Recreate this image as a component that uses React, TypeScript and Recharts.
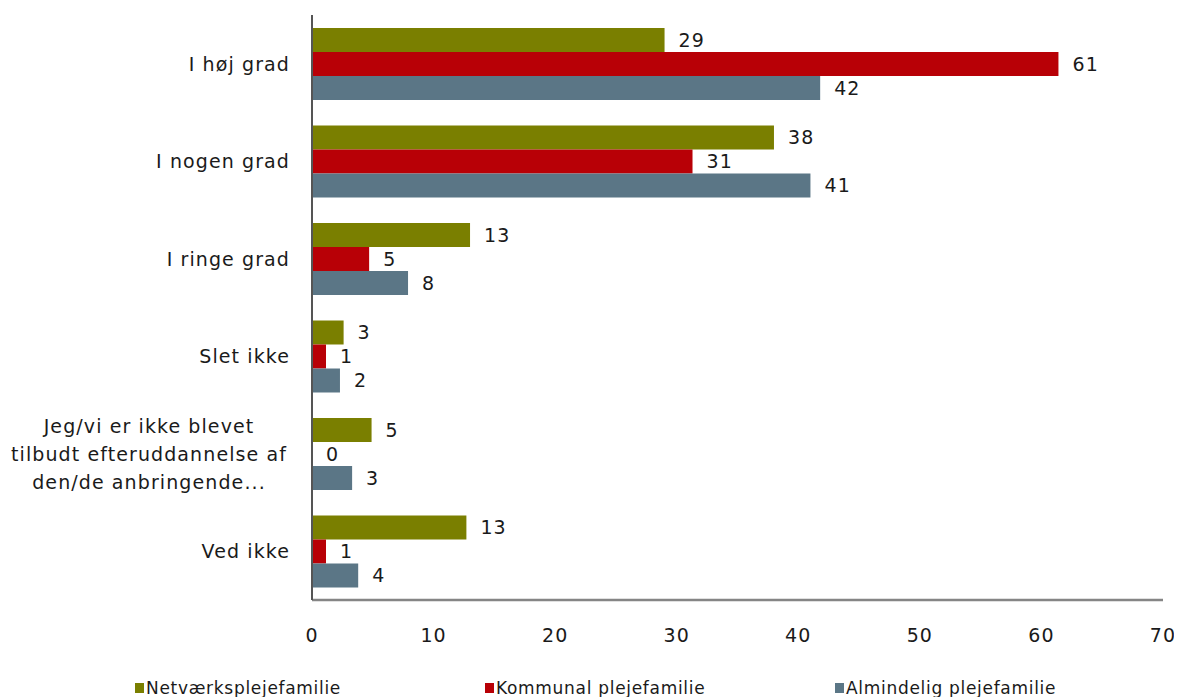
import { BarChart, Bar, XAxis, YAxis, Legend } from 'recharts';

const categories = [
  'I høj grad',
  'I nogen grad',
  'I ringe grad',
  'Slet ikke',
  'Jeg/vi er ikke blevet\ntilbudt efteruddannelse af\nden/de anbringende...',
  'Ved ikke',
];

const netvaerk = [29, 38, 13, 2.6, 4.9, 12.7];
const kommunal = [61.4, 31.3, 4.7, 1.15, 0, 1.15];
const almindelig = [41.8, 41, 7.9, 2.3, 3.3, 3.8];

const xTicks = [0, 10, 20, 30, 40, 50, 60, 70];

const series = [
  { key: 'netvaerk', name: 'Netværksplejefamilie', color: '#7a7f00' },
  { key: 'kommunal', name: 'Kommunal plejefamilie', color: '#b80006' },
  { key: 'almindelig', name: 'Almindelig plejefamilie', color: '#5b7686' },
];

const data = categories.map((label, i) => ({
  label,
  netvaerk: netvaerk[i],
  kommunal: kommunal[i],
  almindelig: almindelig[i],
}));

const FONT = '"DejaVu Sans", Verdana, sans-serif';
const textStyle = { fontFamily: FONT, fontSize: 19, letterSpacing: 1.1, fill: '#1a1a1a' };

function CategoryTick({ x, y, payload }: any) {
  const lines = String(payload.value).split('\n');
  if (lines.length === 1) {
    return (
      <text x={x - 20} y={y} dy="0.36em" textAnchor="end" style={textStyle}>
        {lines[0]}
      </text>
    );
  }
  const lineH = 28;
  const start = y - ((lines.length - 1) * lineH) / 2;
  return (
    <text textAnchor="middle" style={textStyle}>
      {lines.map((l, i) => (
        <tspan key={i} x={x - 161} y={start + i * lineH} dy="0.36em">
          {l}
        </tspan>
      ))}
    </text>
  );
}

function ValueLabel({ x, y, width, height, value }: any) {
  const v = Array.isArray(value) ? value[1] - value[0] : Number(value);
  return (
    <text x={x + width + 14} y={y + height / 2} dy="0.36em" textAnchor="start" style={textStyle}>
      {Math.round(v)}
    </text>
  );
}

function LegendContent() {
  return (
    <div
      style={{
        height: 47,
        position: 'relative',
        fontFamily: FONT,
        fontSize: 17,
        letterSpacing: 0.7,
        color: '#1a1a1a',
      }}
    >
      {series.map((s, i) => (
        <div
          key={s.key}
          style={{
            position: 'absolute',
            left: 127 + i * 350,
            top: 29,
            display: 'flex',
            alignItems: 'center',
            lineHeight: '18px',
            whiteSpace: 'nowrap',
          }}
        >
          <span style={{ width: 9, height: 10, background: s.color, marginRight: 2, display: 'inline-block' }} />
          {s.name}
        </div>
      ))}
    </div>
  );
}

export default function App() {
  return (
    <>
      <style>{'svg.recharts-surface { overflow: visible; }'}</style>
      <BarChart
        width={1166}
        height={689}
        data={data}
        layout="vertical"
        margin={{ top: 7, right: 11, bottom: 0, left: 0 }}
        barCategoryGap={13}
        barGap={0}
      >
        <XAxis
          type="number"
          domain={[0, 70]}
          ticks={xTicks}
          tickLine={false}
          tickSize={0}
          tickMargin={29}
          height={50}
          axisLine={{ stroke: '#858585', strokeWidth: 2.5 }}
          tick={{ ...textStyle }}
        />
        <YAxis
          type="category"
          dataKey="label"
          width={304}
          tickLine={false}
          tickSize={0}
          axisLine={{ stroke: '#555', strokeWidth: 2 }}
          tick={<CategoryTick />}
          interval={0}
        />
        <Legend verticalAlign="bottom" content={<LegendContent />} />
        {series.map((s) => (
          <Bar
            key={s.key}
            dataKey={s.key}
            name={s.name}
            fill={s.color}
            minPointSize={0.01}
            isAnimationActive={false}
            label={<ValueLabel />}
          />
        ))}
      </BarChart>
    </>
  );
}
